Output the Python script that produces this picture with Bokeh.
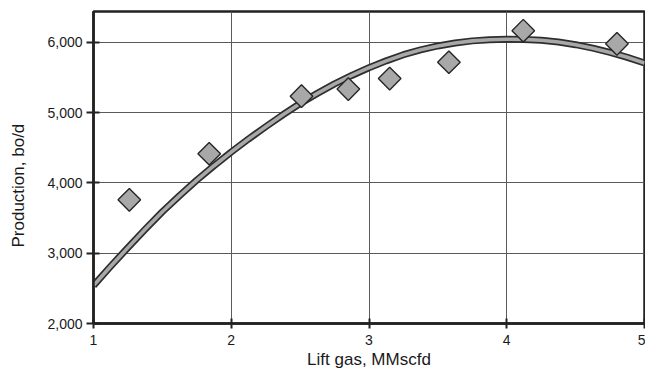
import numpy as np
from bokeh.plotting import figure
from bokeh.models import Range1d, FixedTicker, NumeralTickFormatter, Title, LinearAxis
from bokeh.embed import file_html
from bokeh.resources import INLINE

# Measured data points (lift gas MMscfd, production bo/d)
gas_x = [1.26, 1.84, 2.51, 2.85, 3.15, 3.58, 4.12, 4.80]
prod_y = [3760, 4415, 5235, 5336, 5485, 5718, 6167, 5980]

# Fitted curve
fit_x = [1.000, 1.125, 1.250, 1.375, 1.500, 1.625, 1.750, 1.875, 2.000,
         2.125, 2.250, 2.375, 2.500, 2.625, 2.750, 2.875, 3.000,
         3.125, 3.250, 3.375, 3.500, 3.625, 3.750, 3.875, 4.000,
         4.125, 4.250, 4.375, 4.500, 4.625, 4.750, 4.875, 5.000]
fit_y = [2540, 2815, 3080, 3340, 3590, 3820, 4040, 4245, 4440,
         4625, 4800, 4970, 5130, 5275, 5410, 5530, 5640,
         5738, 5825, 5895, 5950, 5992, 6022, 6039, 6045,
         6043, 6030, 6005, 5968, 5918, 5858, 5788, 5708]

x_ticks = [1, 2, 3, 4, 5]
y_ticks = [2000, 3000, 4000, 5000, 6000]
x_label = "Lift gas, MMscfd"
y_label = "Production, bo/d"

FONT = "Liberation Sans"
DARK = "#222222"
TEXT = "#1a1a1a"

p = figure(width=645, height=371,
           x_range=Range1d(1, 5), y_range=Range1d(2000, 6440),
           output_backend="svg", toolbar_location=None,
           min_border_left=93, min_border_right=1,
           min_border_top=11, min_border_bottom=48)

p.background_fill_color = "white"
p.border_fill_color = "white"
p.outline_line_color = DARK
p.outline_line_width = 2.5

# grids
p.xgrid.ticker = FixedTicker(ticks=x_ticks)
p.ygrid.ticker = FixedTicker(ticks=y_ticks)
p.grid.grid_line_color = "#5a5a5a"
p.grid.grid_line_width = 1

# axes
p.xaxis.ticker = FixedTicker(ticks=x_ticks)
p.yaxis.ticker = FixedTicker(ticks=y_ticks)
p.yaxis.formatter = NumeralTickFormatter(format="0,0")
p.axis.axis_line_color = DARK
p.axis.axis_line_width = 2.5
p.axis.major_tick_line_color = DARK
p.axis.major_tick_line_width = 2
p.axis.minor_tick_line_color = None
p.axis.major_label_text_font = FONT
p.axis.major_label_text_font_size = "14px"
p.axis.major_label_text_color = TEXT
p.xaxis.major_tick_in = 5
p.xaxis.major_tick_out = 5
p.xaxis.major_label_standoff = 6
p.yaxis.major_tick_in = 6
p.yaxis.major_tick_out = 7
p.yaxis.major_label_standoff = 4

# x axis title
p.xaxis.axis_label = x_label
p.xaxis.axis_label_text_font = FONT
p.xaxis.axis_label_text_font_size = "17px"
p.xaxis.axis_label_text_font_style = "normal"
p.xaxis.axis_label_text_color = TEXT
p.xaxis.axis_label_standoff = 2

# invisible spacer between the y tick labels and the y title
spacer = LinearAxis(ticker=FixedTicker(ticks=[4000]), axis_line_color=None,
                    major_tick_in=0, major_tick_out=15,
                    major_tick_line_color=None, minor_tick_line_color=None,
                    major_label_overrides={4000: ""},
                    major_label_standoff=0, major_label_text_color=None)
p.add_layout(spacer, "left")

# y title
p.add_layout(Title(text=y_label, align="left", offset=76,
                   vertical_align="bottom", standoff=4,
                   text_font=FONT, text_font_size="17px",
                   text_font_style="normal", text_color=TEXT), "left")

# fitted curve: dark outer band with lighter core
p.line(fit_x, fit_y, line_color="#2e2e2e", line_width=7, line_join="round")
p.line(fit_x, fit_y, line_color="#a8a8a8", line_width=3.6, line_join="round")

# data points as diamonds
p.scatter(gas_x, prod_y, marker="square", size=16, angle=np.pi / 4,
          fill_color="#a8a8a8", line_color="#262626", line_width=1.4)

open("out.html", "w").write(file_html(p, INLINE))
